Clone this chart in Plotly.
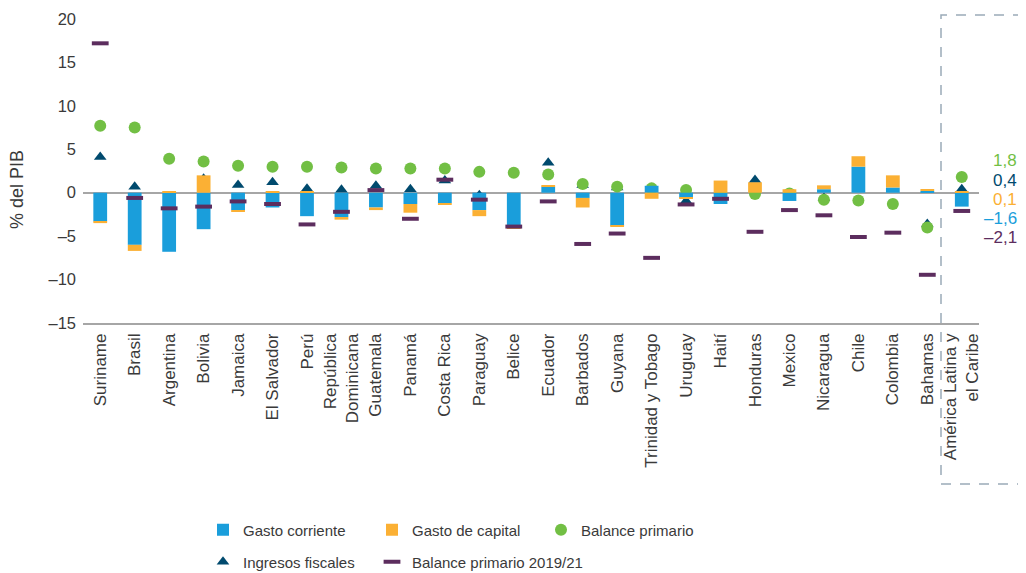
import plotly.graph_objects as go

categorias = ["Suriname", "Brasil", "Argentina", "Bolivia", "Jamaica", "El Salvador", "Perú",
              "República<br>Dominicana", "Guatemala", "Panamá", "Costa Rica", "Paraguay", "Belice",
              "Ecuador", "Barbados", "Guyana", "Trinidad y Tobago", "Uruguay", "Haití", "Honduras",
              "Mexico", "Nicaragua", "Chile", "Colombia", "Bahamas", "América Latina y<br>el Caribe"]

gasto_corriente = [-3.3, -6.0, -6.8, -4.2, -2.0, -1.7, -2.7, -2.8, -1.7, -1.3, -1.2, -2.0, -4.0,
                   0.7, -0.6, -3.8, 0.8, -0.6, -1.3, 0.0, -0.95, 0.4, 3.0, 0.6, 0.2, -1.6]
gasto_capital = [-0.2, -0.7, 0.1, 2.0, -0.2, 0.1, 0.1, -0.3, -0.3, -1.0, -0.1, -0.7, -0.1,
                 0.15, -1.1, -0.1, -0.7, -0.1, 1.4, 1.2, 0.4, 0.45, 1.2, 1.4, 0.2, 0.1]
balance_primario = [7.7, 7.5, 3.9, 3.6, 3.1, 3.0, 3.0, 2.9, 2.8, 2.8, 2.8, 2.4, 2.3,
                    2.1, 1.0, 0.7, 0.5, 0.3, 0.1, -0.15, -0.1, -0.8, -0.9, -1.3, -4.0, 1.8]
ingresos_fiscales = [4.1, 0.7, -0.5, 1.6, 0.9, 1.2, 0.45, 0.35, 0.8, 0.4, 1.4, -0.3, -1.0,
                     3.45, 0.9, 0.6, 0.5, -0.95, 0.5, 1.45, -0.5, -0.6, 2.0, 1.0, -3.6, 0.4]
balance_2019_21 = [17.2, -0.6, -1.8, -1.6, -1.0, -1.3, -3.65, -2.2, 0.3, -3.0, 1.5, -0.8, -3.9,
                   -1.0, -5.9, -4.7, -7.5, -1.35, -0.7, -4.5, -2.0, -2.6, -5.1, -4.6, -9.45, -2.1]

y_ticks = [-15, -10, -5, 0, 5, 10, 15, 20]
y_tick_labels = ["–15", "–10", "–5", "0", "5", "10", "15", "20"]

AZUL = "#1a9edb"
NARANJA = "#fbb034"
VERDE = "#72bf44"
AZUL_OSC = "#004a6e"
MORADO = "#5c2d5e"
GRIS = "#a6a6a6"
TEXTO = "#3a3a3a"

fig = go.Figure()
# bottom layer (subplot x/y): triangles, then green circles
fig.add_trace(go.Scatter(x=categorias, y=ingresos_fiscales, mode="markers", name="Ingresos fiscales",
                         marker=dict(symbol="triangle-up", size=11, color=AZUL_OSC),
                         legend="legend2", legendrank=4, xaxis="x", yaxis="y"))
fig.add_trace(go.Scatter(x=categorias, y=balance_primario, mode="markers", name="Balance primario",
                         marker=dict(symbol="circle", size=12, color=VERDE),
                         legend="legend", legendrank=3, xaxis="x", yaxis="y"))
# top layer (overlay subplot x2/y2): bars and 2019/21 dashes
fig.add_trace(go.Bar(x=categorias, y=gasto_corriente, name="Gasto corriente", width=0.4,
                     marker=dict(color=AZUL, line=dict(width=0)),
                     legend="legend", legendrank=1, xaxis="x2", yaxis="y2"))
fig.add_trace(go.Bar(x=categorias, y=gasto_capital, name="Gasto de capital", width=0.4,
                     marker=dict(color=NARANJA, line=dict(width=0)),
                     legend="legend", legendrank=2, xaxis="x2", yaxis="y2"))
fig.add_trace(go.Scatter(x=categorias, y=balance_2019_21, mode="markers", name="Balance primario 2019/21",
                         marker=dict(symbol="line-ew", size=12, color=MORADO,
                                     line=dict(width=4, color=MORADO)),
                         legend="legend3", legendrank=5, xaxis="x2", yaxis="y2"))

# the page body adds an 8 px offset; figure sized to fit the window
OFF = 8
W, H = 1026 - OFF, 573 - OFF
L, T = 83 - OFF, 19 - OFF
R = W - (979 - OFF)
B = H - (323 - OFF)
pw = W - L - R
ph = H - T - B


def px_x(page_x):
    return (page_x - OFF - L) / pw


def px_y(page_y):
    return (H - B - (page_y - OFF)) / ph


def fmt(v):
    s = f"{abs(v):.1f}".replace(".", ",")
    return ("–" + s) if v < 0 else s


legend_font = dict(size=15, color=TEXTO)
fig.update_layout(
    width=W, height=H,
    margin=dict(l=L, r=R, t=T, b=B, autoexpand=False),
    plot_bgcolor="white", paper_bgcolor="white",
    barmode="relative",
    font=dict(family="Liberation Sans, Arial, sans-serif", color=TEXTO),
    xaxis=dict(type="category", categoryorder="array", categoryarray=categorias,
               range=[-0.5, 25.5], showline=True, linecolor=GRIS, linewidth=1.5,
               ticks="", tickangle=-90, tickfont=dict(size=17, color=TEXTO),
               showgrid=False, zeroline=False, ticklabelstandoff=2),
    yaxis=dict(range=[-15, 20], tickvals=y_ticks, ticktext=y_tick_labels, showgrid=False,
               zeroline=True, zerolinecolor=GRIS, zerolinewidth=1.5, showline=False,
               ticks="", tickfont=dict(size=16.5, color=TEXTO), ticklabelstandoff=6),
    xaxis2=dict(type="category", categoryorder="array", categoryarray=categorias,
                range=[-0.5, 25.5], overlaying="x", visible=False, anchor="y2"),
    yaxis2=dict(range=[-15, 20], overlaying="y", visible=False, anchor="x2"),
    legend=dict(orientation="h", xref="container", yref="container",
                x=195 / W, y=1 - (530 - OFF) / H, xanchor="left", yanchor="middle",
                entrywidth=124, font=legend_font, traceorder="normal"),
    legend2=dict(orientation="h", xref="container", yref="container",
                 x=195 / W, y=1 - (562 - OFF) / H, xanchor="left", yanchor="middle",
                 font=legend_font, traceorder="normal"),
    legend3=dict(orientation="h", xref="container", yref="container",
                 x=(195 + 169) / W, y=1 - (562 - OFF) / H, xanchor="left", yanchor="middle",
                 font=legend_font, traceorder="normal"),
)

# dashed frame around the regional aggregate
fig.add_shape(type="rect", xref="paper", yref="paper",
              x0=px_x(941), x1=px_x(1023), y0=px_y(484), y1=px_y(15),
              line=dict(color="#9aabb8", width=1.5, dash="10px,9px"), fillcolor="rgba(0,0,0,0)")

# y-axis title
fig.add_annotation(text="% del PIB", xref="paper", yref="paper", x=px_x(17), y=px_y(190),
                   textangle=-90, showarrow=False, font=dict(size=18, color=TEXTO),
                   xanchor="center", yanchor="middle")

# value labels for the regional aggregate
i = len(categorias) - 1
etiquetas = [(balance_primario[i], VERDE, 160), (ingresos_fiscales[i], AZUL_OSC, 180),
             (gasto_capital[i], NARANJA, 199), (gasto_corriente[i], AZUL, 218),
             (balance_2019_21[i], MORADO, 237)]
for v, c, py in etiquetas:
    fig.add_annotation(text=fmt(v), xref="paper", yref="paper", x=px_x(1019), y=px_y(py),
                       xanchor="right", yanchor="middle", showarrow=False,
                       font=dict(size=17, color=c))

fig.write_html("out.html")
